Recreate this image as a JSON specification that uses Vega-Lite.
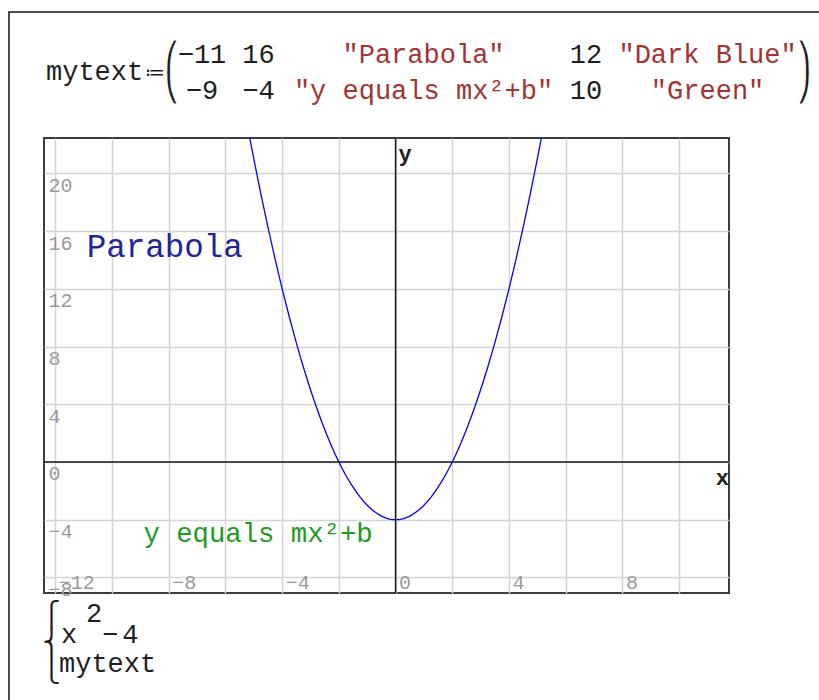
{
  "$schema": "https://vega.github.io/schema/vega-lite/v6.json",
  "width": 685,
  "height": 455,
  "autosize": {"type": "none"},
  "padding": {"left": 44, "top": 138, "right": 90, "bottom": 107},
  "background": "white",
  "config": {"view": {"stroke": "#3c3c3c", "strokeWidth": 2}, "font": "Liberation Mono"},
  "data": {"values": [{}]},
  "datasets": {
    "curve": [
      {"x": -5.25, "y": 23.5625}, {"x": -5, "y": 21}, {"x": -4.75, "y": 18.5625}, {"x": -4.5, "y": 16.25},
      {"x": -4.25, "y": 14.0625}, {"x": -4, "y": 12}, {"x": -3.75, "y": 10.0625}, {"x": -3.5, "y": 8.25},
      {"x": -3.25, "y": 6.5625}, {"x": -3, "y": 5}, {"x": -2.75, "y": 3.5625}, {"x": -2.5, "y": 2.25},
      {"x": -2.25, "y": 1.0625}, {"x": -2, "y": 0}, {"x": -1.75, "y": -0.9375}, {"x": -1.5, "y": -1.75},
      {"x": -1.25, "y": -2.4375}, {"x": -1, "y": -3}, {"x": -0.75, "y": -3.4375}, {"x": -0.5, "y": -3.75},
      {"x": -0.25, "y": -3.9375}, {"x": 0, "y": -4}, {"x": 0.25, "y": -3.9375}, {"x": 0.5, "y": -3.75},
      {"x": 0.75, "y": -3.4375}, {"x": 1, "y": -3}, {"x": 1.25, "y": -2.4375}, {"x": 1.5, "y": -1.75},
      {"x": 1.75, "y": -0.9375}, {"x": 2, "y": 0}, {"x": 2.25, "y": 1.0625}, {"x": 2.5, "y": 2.25},
      {"x": 2.75, "y": 3.5625}, {"x": 3, "y": 5}, {"x": 3.25, "y": 6.5625}, {"x": 3.5, "y": 8.25},
      {"x": 3.75, "y": 10.0625}, {"x": 4, "y": 12}, {"x": 4.25, "y": 14.0625}, {"x": 4.5, "y": 16.25},
      {"x": 4.75, "y": 18.5625}, {"x": 5, "y": 21}, {"x": 5.25, "y": 23.5625}
    ],
    "mytext": [
      {"x": -11, "y": 16, "label": "Parabola", "size": 12, "color": "Dark Blue"},
      {"x": -9, "y": -4, "label": "y equals mx²+b", "size": 10, "color": "Green"}
    ]
  },
  "layer": [
    {
      "mark": {"type": "rect", "filled": false, "stroke": "#111111", "strokeWidth": 1.5},
      "encoding": {
        "x": {"datum": -13.635}, "x2": {"datum": 40},
        "y": {"datum": 31.18}, "y2": {"datum": -40}
      }
    },
    {
      "data": {"name": "curve"},
      "mark": {"type": "line", "clip": true, "color": "#0000ff", "strokeWidth": 1.3, "interpolate": "monotone"},
      "encoding": {
        "x": {
          "field": "x", "type": "quantitative",
          "scale": {"domain": [-12.4, 11.76], "nice": false, "zero": false},
          "axis": {
            "orient": "bottom", "values": [-12, -10, -8, -6, -4, -2, 0, 2, 4, 6, 8, 10],
            "grid": true, "gridColor": "#d4d4d4", "gridWidth": 1.5, "ticks": false, "domain": false, "title": null,
            "labelExpr": "datum.value % 4 === 0 ? datum.label : ''",
            "labelAlign": "left", "labelBaseline": "alphabetic", "labelPadding": -5, "labelOffset": 3,
            "labelFont": "Liberation Mono", "labelFontSize": 20, "labelColor": "#999999",
            "labelFlush": false, "labelOverlap": false, "labelBound": false
          }
        },
        "y": {
          "field": "y", "type": "quantitative",
          "scale": {"domain": [-9.08, 22.45], "nice": false, "zero": false},
          "axis": {
            "orient": "left", "values": [-8, -4, 0, 4, 8, 12, 16, 20],
            "grid": true, "gridColor": "#d4d4d4", "gridWidth": 1.5, "ticks": false, "domain": false, "title": null,
            "labelAlign": "left", "labelBaseline": "top", "labelPadding": -4, "labelOffset": 2,
            "labelFont": "Liberation Mono", "labelFontSize": 20, "labelColor": "#999999",
            "labelFlush": false, "labelOverlap": false, "labelBound": false
          }
        }
      }
    },
    {
      "mark": {"type": "rule", "color": "#1a1a1a", "strokeWidth": 1.5},
      "encoding": {"x": {"datum": 0}}
    },
    {
      "mark": {"type": "rule", "color": "#1a1a1a", "strokeWidth": 1.5},
      "encoding": {"y": {"datum": 0}}
    },
    {
      "mark": {"type": "text", "text": "x", "font": "Liberation Mono", "fontWeight": "bold", "fontSize": 22, "align": "right", "baseline": "top", "dy": 6, "color": "#222222"},
      "encoding": {"x": {"datum": 11.76}, "y": {"datum": 0}}
    },
    {
      "mark": {"type": "text", "text": "y", "font": "Liberation Mono", "fontWeight": "bold", "fontSize": 22, "align": "left", "baseline": "top", "dx": 3, "dy": 6, "color": "#222222"},
      "encoding": {"x": {"datum": 0}, "y": {"datum": 22.45}}
    },
    {
      "data": {"name": "mytext"},
      "mark": {"type": "text", "font": "Liberation Mono", "align": "left", "baseline": "top", "dx": 3},
      "encoding": {
        "x": {"field": "x", "type": "quantitative"},
        "y": {"field": "y", "type": "quantitative"},
        "text": {"field": "label"},
        "color": {"field": "color", "type": "nominal", "scale": {"domain": ["Dark Blue", "Green"], "range": ["#23239a", "#1f9a1f"]}, "legend": null},
        "size": {"field": "size", "type": "quantitative", "scale": {"domain": [10, 12], "range": [27.3, 32.5], "zero": false}, "legend": null}
      }
    },
    {
      "mark": {"type": "text", "text": "mytext", "font": "Liberation Mono", "fontSize": 27, "align": "left", "baseline": "alphabetic", "color": "#1e1e1e"},
      "encoding": {"x": {"datum": -12.329}, "y": {"datum": 26.47}}
    },
    {
      "mark": {"type": "text", "text": "≔", "font": "DejaVu Sans", "fontSize": 20, "align": "center", "baseline": "middle", "color": "#1e1e1e"},
      "encoding": {"x": {"datum": -8.485}, "y": {"datum": 26.955}}
    },
    {
      "mark": {"type": "text", "text": "⎛", "font": "DejaVu Sans", "fontSize": 27, "align": "left", "baseline": "alphabetic", "color": "#1e1e1e"},
      "encoding": {"x": {"datum": -8.132}, "y": {"datum": 27.467}}
    },
    {
      "mark": {"type": "text", "text": "⎝", "font": "DejaVu Sans", "fontSize": 27, "align": "left", "baseline": "alphabetic", "color": "#1e1e1e"},
      "encoding": {"x": {"datum": -8.132}, "y": {"datum": 25.29}}
    },
    {
      "mark": {"type": "text", "text": "⎞", "font": "DejaVu Sans", "fontSize": 27, "align": "right", "baseline": "alphabetic", "color": "#1e1e1e"},
      "encoding": {"x": {"datum": 14.655}, "y": {"datum": 27.467}}
    },
    {
      "mark": {"type": "text", "text": "⎠", "font": "DejaVu Sans", "fontSize": 27, "align": "right", "baseline": "alphabetic", "color": "#1e1e1e"},
      "encoding": {"x": {"datum": 14.655}, "y": {"datum": 25.29}}
    },
    {
      "mark": {"type": "text", "text": "−11", "font": "Liberation Mono", "fontSize": 27, "align": "center", "baseline": "alphabetic", "color": "#1e1e1e"},
      "encoding": {"x": {"datum": -6.827}, "y": {"datum": 27.65}}
    },
    {
      "mark": {"type": "text", "text": "16", "font": "Liberation Mono", "fontSize": 27, "align": "center", "baseline": "alphabetic", "color": "#1e1e1e"},
      "encoding": {"x": {"datum": -4.834}, "y": {"datum": 27.65}}
    },
    {
      "mark": {"type": "text", "text": "\"Parabola\"", "font": "Liberation Mono", "fontSize": 27, "align": "center", "baseline": "alphabetic", "color": "#a33333"},
      "encoding": {"x": {"datum": 0.986}, "y": {"datum": 27.65}}
    },
    {
      "mark": {"type": "text", "text": "12", "font": "Liberation Mono", "fontSize": 27, "align": "center", "baseline": "alphabetic", "color": "#1e1e1e"},
      "encoding": {"x": {"datum": 6.718}, "y": {"datum": 27.65}}
    },
    {
      "mark": {"type": "text", "text": "\"Dark Blue\"", "font": "Liberation Mono", "fontSize": 27, "align": "center", "baseline": "alphabetic", "color": "#a33333"},
      "encoding": {"x": {"datum": 11.004}, "y": {"datum": 27.65}}
    },
    {
      "mark": {"type": "text", "text": "−9", "font": "Liberation Mono", "fontSize": 27, "align": "center", "baseline": "alphabetic", "color": "#1e1e1e"},
      "encoding": {"x": {"datum": -6.827}, "y": {"datum": 25.15}}
    },
    {
      "mark": {"type": "text", "text": "−4", "font": "Liberation Mono", "fontSize": 27, "align": "center", "baseline": "alphabetic", "color": "#1e1e1e"},
      "encoding": {"x": {"datum": -4.834}, "y": {"datum": 25.15}}
    },
    {
      "mark": {"type": "text", "text": "\"y equals mx²+b\"", "font": "Liberation Mono", "fontSize": 27, "align": "center", "baseline": "alphabetic", "color": "#a33333"},
      "encoding": {"x": {"datum": 0.986}, "y": {"datum": 25.15}}
    },
    {
      "mark": {"type": "text", "text": "10", "font": "Liberation Mono", "fontSize": 27, "align": "center", "baseline": "alphabetic", "color": "#1e1e1e"},
      "encoding": {"x": {"datum": 6.718}, "y": {"datum": 25.15}}
    },
    {
      "mark": {"type": "text", "text": "\"Green\"", "font": "Liberation Mono", "fontSize": 27, "align": "center", "baseline": "alphabetic", "color": "#a33333"},
      "encoding": {"x": {"datum": 11.004}, "y": {"datum": 25.15}}
    },
    {
      "mark": {"type": "text", "text": "⎧", "font": "DejaVu Sans", "fontSize": 24, "align": "left", "baseline": "alphabetic", "color": "#1e1e1e"},
      "encoding": {"x": {"datum": -12.45}, "y": {"datum": -11.112}}
    },
    {
      "mark": {"type": "text", "text": "⎨", "font": "DejaVu Sans", "fontSize": 24, "align": "left", "baseline": "alphabetic", "color": "#1e1e1e"},
      "encoding": {"x": {"datum": -12.45}, "y": {"datum": -13.052}}
    },
    {
      "mark": {"type": "text", "text": "⎩", "font": "DejaVu Sans", "fontSize": 24, "align": "left", "baseline": "alphabetic", "color": "#1e1e1e"},
      "encoding": {"x": {"datum": -12.45}, "y": {"datum": -14.993}}
    },
    {
      "mark": {"type": "text", "text": "x", "font": "Liberation Mono", "fontSize": 27, "align": "left", "baseline": "alphabetic", "color": "#1e1e1e"},
      "encoding": {"x": {"datum": -11.8}, "y": {"datum": -12.547}}
    },
    {
      "mark": {"type": "text", "text": "2", "font": "Liberation Mono", "fontSize": 27, "align": "left", "baseline": "alphabetic", "color": "#1e1e1e"},
      "encoding": {"x": {"datum": -10.918}, "y": {"datum": -11.091}}
    },
    {
      "mark": {"type": "text", "text": "−", "font": "Liberation Mono", "fontSize": 27, "align": "left", "baseline": "alphabetic", "color": "#1e1e1e"},
      "encoding": {"x": {"datum": -10.35}, "y": {"datum": -12.547}}
    },
    {
      "mark": {"type": "text", "text": "4", "font": "Liberation Mono", "fontSize": 27, "align": "left", "baseline": "alphabetic", "color": "#1e1e1e"},
      "encoding": {"x": {"datum": -9.64}, "y": {"datum": -12.547}}
    },
    {
      "mark": {"type": "text", "text": "mytext", "font": "Liberation Mono", "fontSize": 27, "align": "left", "baseline": "alphabetic", "color": "#1e1e1e"},
      "encoding": {"x": {"datum": -11.871}, "y": {"datum": -14.556}}
    }
  ]
}
